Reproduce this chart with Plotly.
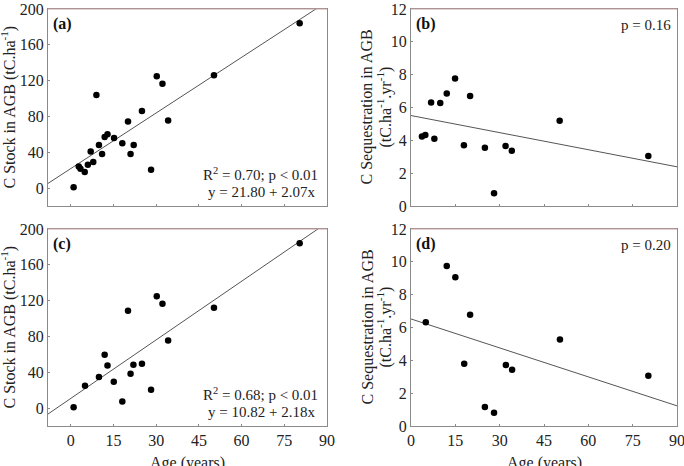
import plotly.graph_objects as go

# ---------------- data ----------------
age_a = [1, 2.8, 3.4, 4.9, 6.0, 7.0, 7.9, 9.0, 9.9, 11.0, 11.9, 12.9, 15.2, 18.1, 20.1, 21.0, 22.1, 25.0, 28.2, 30.2, 32.2, 34.2, 50.3, 80.4]
stock_a = [1, 24, 21.6, 18, 26, 41, 29, 104, 48, 38, 57, 60, 56, 50, 74.5, 38, 48, 86, 20.5, 125, 116.6, 75.6, 126, 184]

age_b = [3.7, 4.85, 6.8, 7.9, 9.9, 12.1, 14.9, 17.9, 20.0, 25.0, 28.1, 32.0, 34.1, 50.3, 80.3]
seq_b = [4.24, 4.33, 6.3, 4.1, 6.28, 6.85, 7.76, 3.7, 6.7, 3.55, 0.77, 3.65, 3.37, 5.19, 3.04]

age_c = [1, 5, 9.9, 11.9, 12.9, 15.1, 18.1, 20.1, 21.0, 22.0, 25.0, 28.2, 30.2, 32.2, 34.2, 50.3, 80.4]
stock_c = [1, 25, 34.6, 59.6, 47.7, 29.4, 7.4, 108.7, 38.4, 48.4, 49.5, 20.5, 125, 116.6, 75.6, 112, 184]

age_d = [5, 12.1, 15, 18, 20, 25, 28.1, 32.1, 34.2, 50.4, 80.3]
seq_d = [6.32, 9.75, 9.06, 3.79, 6.77, 1.16, 0.81, 3.71, 3.43, 5.27, 3.06]

# regression lines (intercept, slope)
fit_a = (21.80, 2.07)
fit_b = (5.51, -0.0347)
fit_c = (10.82, 2.18)
fit_d = (6.52, -0.0588)

xticks = [0, 15, 30, 45, 60, 75, 90]
yticks_stock = [0, 40, 80, 120, 160, 200]
yticks_seq = [0, 2, 4, 6, 8, 10, 12]

FONT = "Liberation Serif, Times New Roman, Times, serif"
GRID = "#8a8a8a"
TOPLINE = "#c8a0a0"
LINE = "#555555"

fig = go.Figure()

panels = [
    (age_a, stock_a, fit_a, "x", "y", [-8, 90]),
    (age_b, seq_b, fit_b, "x2", "y2", [0, 90]),
    (age_c, stock_c, fit_c, "x3", "y3", [-8, 90]),
    (age_d, seq_d, fit_d, "x4", "y4", [0, 90]),
]

for xs, ys, fit, xa, ya, xr in panels:
    fig.add_trace(go.Scatter(
        x=xr, y=[fit[0] + fit[1] * v for v in xr], mode="lines",
        line=dict(color=LINE, width=1), xaxis=xa, yaxis=ya,
        showlegend=False, hoverinfo="skip", cliponaxis=True))
    fig.add_trace(go.Scatter(
        x=xs, y=ys, mode="markers",
        marker=dict(color="black", size=6.5), xaxis=xa, yaxis=ya,
        showlegend=False, cliponaxis=False))

W, H = 684, 466
def dx(a, b):
    return [a / W, b / W]
def dy(top, bottom):
    return [1 - bottom / H, 1 - top / H]
def px(x):
    return x / W
def py(y):
    return 1 - y / H

xd_left = dx(48, 327)
xd_right = dx(411, 677)
yd_top = dy(9, 206)
yd_bot = dy(229, 426)

axis_common = dict(
    showgrid=False, zeroline=False, showline=True, linecolor=GRID, linewidth=1,
    mirror=True, ticks="inside", ticklen=2, tickcolor=GRID, automargin=False,
    ticklabeloverflow="allow",
    tickfont=dict(family=FONT, size=16, color="#222"),
)
TF = dict(family=FONT, size=16, color="#222")

layout = dict(
    width=W, height=H, margin=dict(l=0, r=0, t=0, b=0),
    paper_bgcolor="white", plot_bgcolor="white",
    font=dict(family=FONT, color="#222"),
    xaxis=dict(domain=xd_left, range=[-8, 90], tickvals=xticks, showticklabels=False, anchor="y", **axis_common),
    yaxis=dict(domain=yd_top, range=[-20, 200], tickvals=yticks_stock, anchor="x", **axis_common),
    xaxis2=dict(domain=xd_right, range=[0, 90], tickvals=xticks, showticklabels=False, anchor="y2", **axis_common),
    yaxis2=dict(domain=yd_top, range=[0, 12], tickvals=yticks_seq, anchor="x2", **axis_common),
    xaxis3=dict(domain=xd_left, range=[-8, 90], tickvals=xticks, anchor="y3", **axis_common),
    yaxis3=dict(domain=yd_bot, range=[-20, 200], tickvals=yticks_stock, anchor="x3", **axis_common),
    xaxis4=dict(domain=xd_right, range=[0, 90], tickvals=xticks, anchor="y4", **axis_common),
    yaxis4=dict(domain=yd_bot, range=[0, 12], tickvals=yticks_seq, anchor="x4", **axis_common),
)
fig.update_layout(**layout)

shapes = []
for xa, ya in [("x", "y"), ("x2", "y2"), ("x3", "y3"), ("x4", "y4")]:
    shapes.append(dict(type="line", xref=f"{xa} domain", yref=f"{ya} domain",
                       x0=0, x1=1, y0=1, y1=1, line=dict(color=TOPLINE, width=1.2)))
fig.update_layout(shapes=shapes)

ann = []
# y-axis titles
for yc in [107.5, 327.5]:
    ann.append(dict(text="C Stock in AGB (tC.ha<sup>-1</sup>)", xref="paper", yref="paper",
                    x=px(9), y=py(yc), xanchor="center", yanchor="middle", textangle=-90,
                    showarrow=False, font=TF))
    ann.append(dict(text="C Sequestration in AGB", xref="paper", yref="paper",
                    x=px(367), y=py(yc), xanchor="center", yanchor="middle", textangle=-90,
                    showarrow=False, font=TF))
    ann.append(dict(text="(tC.ha<sup>-1</sup>.yr<sup>-1</sup>)", xref="paper", yref="paper",
                    x=px(385), y=py(yc), xanchor="center", yanchor="middle", textangle=-90,
                    showarrow=False, font=TF))
# x-axis titles (partly cut by the bottom edge, as in the reference)
for xc in [187.5, 544]:
    ann.append(dict(text="Age (years)", xref="paper", yref="paper",
                    x=px(xc), y=py(452), xanchor="center", yanchor="top",
                    showarrow=False, font=TF))

for t, xa, ya in [("(a)", "x", "y"), ("(b)", "x2", "y2"), ("(c)", "x3", "y3"), ("(d)", "x4", "y4")]:
    ann.append(dict(text=f"<b>{t}</b>", xref=f"{xa} domain", yref=f"{ya} domain",
                    x=0.012, y=0.925, xanchor="left", yanchor="middle", showarrow=False,
                    font=dict(family=FONT, size=16, color="#111")))

stats = [
    ("R<sup>2</sup> = 0.70; p < 0.01", "x", "y", 0.975, 0.16),
    ("y = 21.80 + 2.07x", "x", "y", 0.965, 0.07),
    ("p = 0.16", "x2", "y2", 0.985, 0.92),
    ("R<sup>2</sup> = 0.68; p < 0.01", "x3", "y3", 0.975, 0.16),
    ("y = 10.82 + 2.18x", "x3", "y3", 0.965, 0.07),
    ("p = 0.20", "x4", "y4", 0.985, 0.92),
]
for t, xa, ya, x, y in stats:
    ann.append(dict(text=t, xref=f"{xa} domain", yref=f"{ya} domain",
                    x=x, y=y, xanchor="right", yanchor="middle", showarrow=False,
                    font=dict(family=FONT, size=15, color="#222")))
fig.update_layout(annotations=ann)

fig.write_html("out.html")
